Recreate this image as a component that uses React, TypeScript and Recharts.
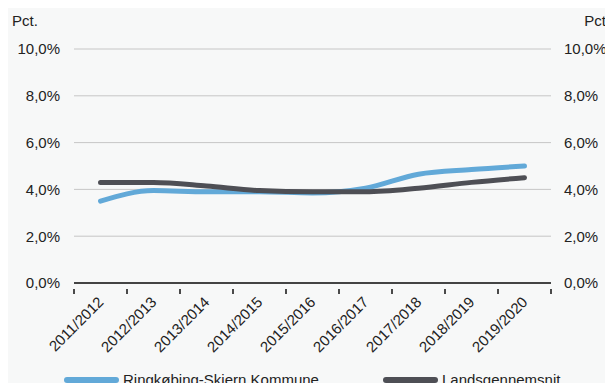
import React from "react";
import { LineChart, Line, XAxis, YAxis, CartesianGrid } from "recharts";

const seasons = [
  "2011/2012",
  "2012/2013",
  "2013/2014",
  "2014/2015",
  "2015/2016",
  "2016/2017",
  "2017/2018",
  "2018/2019",
  "2019/2020",
];
const ringkobing = [3.5, 3.95, 3.9, 3.9, 3.85, 4.05, 4.65, 4.85, 5.0];
const landsgennemsnit = [4.3, 4.3, 4.15, 3.95, 3.9, 3.9, 4.05, 4.3, 4.5];
const yTicks = [0, 2, 4, 6, 8, 10];

const seriesNames = {
  ringkobing: "Ringkøbing-Skjern Kommune",
  lands: "Landsgennemsnit",
};

const BLUE = "#62a9d8";
const DARK = "#4e4f55";
const GRID = "#c6c6c6";
const FONT = '"Liberation Sans", Arial, Helvetica, sans-serif';

const data = seasons.map((s, i) => ({
  name: s,
  ringkobing: ringkobing[i],
  lands: landsgennemsnit[i],
}));

const pct = (v: number) => v.toFixed(1).replace(".", ",") + "%";

// rotated label, tick marks on the band edges
function SeasonTick(props: any) {
  const { x, y, payload, index } = props;
  const half = payload?.offset ? payload.offset : 477 / seasons.length / 2;
  const last = index === seasons.length - 1;
  return (
    <g>
      <line x1={x - half} x2={x - half} y1={y - 2} y2={y + 3} stroke="#111" strokeWidth={1.5} />
      {last && (
        <line x1={x + half} x2={x + half} y1={y - 2} y2={y + 3} stroke="#111" strokeWidth={1.5} />
      )}
      <text
        x={x + 4}
        y={y + 12}
        transform={`rotate(-45, ${x + 4}, ${y + 12})`}
        textAnchor="end"
        fontSize={15}
        fontFamily={FONT}
        fill="#222"
      >
        {payload.value}
      </text>
    </g>
  );
}

function LegendItem({ left, color, label }: { left: number; color: string; label: string }) {
  return (
    <div
      style={{
        position: "absolute",
        left,
        top: 371,
        display: "flex",
        alignItems: "center",
        whiteSpace: "nowrap",
      }}
    >
      <span
        style={{
          display: "inline-block",
          width: 55,
          height: 6,
          borderRadius: 3,
          background: color,
          marginRight: 4,
        }}
      />
      <span style={{ fontSize: 15, fontFamily: FONT, color: "#222" }}>{label}</span>
    </div>
  );
}

export default function App() {
  return (
    <div style={{ margin: -8, width: 613, height: 391, position: "relative", background: "#f7f8f8" }}>
      <LineChart
        width={613}
        height={391}
        data={data}
        margin={{ top: 49, right: 0, bottom: 0, left: 0 }}
      >
        <CartesianGrid vertical={false} stroke={GRID} yAxisId="left" />
        <XAxis
          dataKey="name"
          scale="band"
          interval={0}
          height={108}
          tickLine={false}
          axisLine={{ stroke: "#111", strokeWidth: 1.5 }}
          tick={<SeasonTick />}
        />
        <YAxis
          yAxisId="left"
          domain={[0, 10]}
          ticks={yTicks}
          width={74}
          axisLine={false}
          tickLine={false}
          tickMargin={8}
          tickFormatter={pct}
          tick={{ fontSize: 15, fontFamily: FONT, fill: "#222" }}
          label={({ viewBox }: any) => (
            <text x={viewBox.x + 12} y={viewBox.y - 23} fontSize={15} fontFamily={FONT} fill="#222">
              Pct.
            </text>
          )}
        />
        <YAxis
          yAxisId="right"
          orientation="right"
          domain={[0, 10]}
          ticks={yTicks}
          width={62}
          axisLine={false}
          tickLine={false}
          tickMargin={7}
          tickFormatter={pct}
          tick={{ fontSize: 15, fontFamily: FONT, fill: "#222" }}
          label={({ viewBox }: any) => (
            <text
              x={viewBox.x + viewBox.width - 3}
              y={viewBox.y - 23}
              textAnchor="end"
              fontSize={15}
              fontFamily={FONT}
              fill="#222"
            >
              Pct.
            </text>
          )}
        />
        <Line
          yAxisId="right"
          dataKey="lands"
          stroke="transparent"
          legendType="none"
          dot={false}
          activeDot={false}
          isAnimationActive={false}
        />
        <Line
          yAxisId="left"
          type="monotone"
          dataKey="ringkobing"
          name={seriesNames.ringkobing}
          stroke={BLUE}
          strokeWidth={5}
          strokeLinecap="round"
          dot={false}
          isAnimationActive={false}
        />
        <Line
          yAxisId="left"
          type="monotone"
          dataKey="lands"
          name={seriesNames.lands}
          stroke={DARK}
          strokeWidth={5}
          strokeLinecap="round"
          dot={false}
          isAnimationActive={false}
        />
      </LineChart>
      <LegendItem left={64} color={BLUE} label={seriesNames.ringkobing} />
      <LegendItem left={383} color={DARK} label={seriesNames.lands} />
    </div>
  );
}
